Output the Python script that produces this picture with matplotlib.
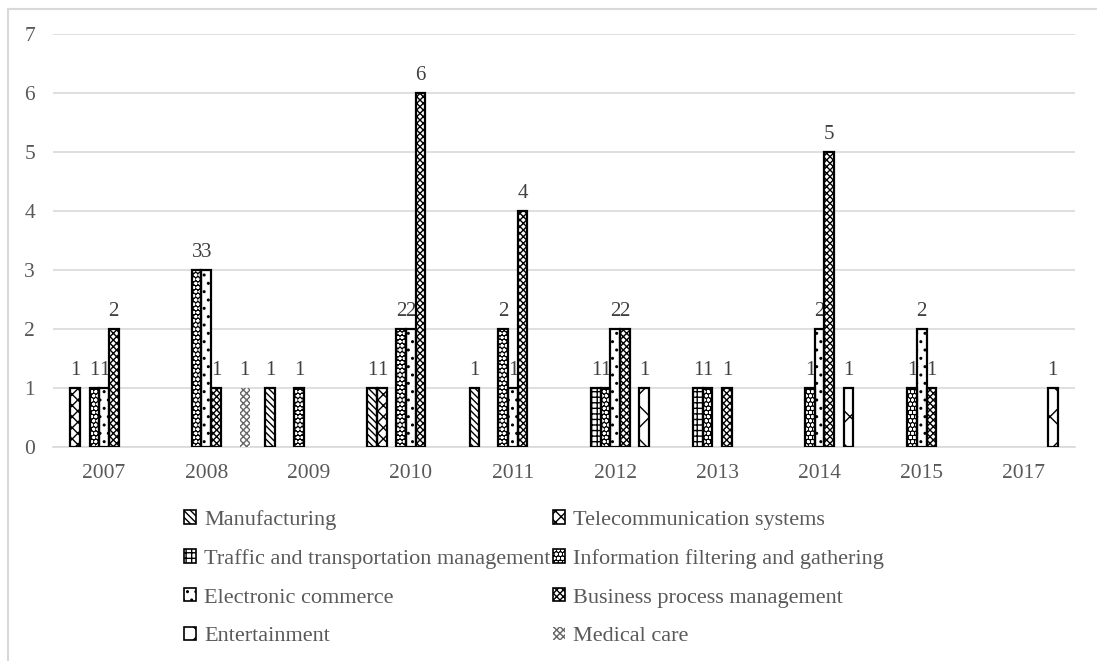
import matplotlib.pyplot as plt
from matplotlib.lines import Line2D
from matplotlib.patches import Patch
import numpy as np

# publications per application field and year
years = ["2007", "2008", "2009", "2010", "2011", "2012", "2013", "2014", "2015", "2017"]

manufacturing = [0, 0, 1, 1, 1, 0, 0, 0, 0, 0]
telecommunication = [1, 0, 0, 1, 0, 0, 0, 0, 0, 0]
traffic = [0, 0, 0, 0, 0, 1, 1, 0, 0, 0]
information_filtering = [1, 3, 1, 2, 2, 1, 1, 1, 1, 0]
electronic_commerce = [1, 3, 0, 2, 1, 2, 0, 2, 2, 0]
business_process = [2, 1, 0, 6, 4, 2, 1, 5, 1, 0]
entertainment = [0, 0, 0, 0, 0, 1, 0, 1, 0, 1]
medical_care = [0, 1, 0, 0, 0, 0, 0, 0, 0, 0]

labels = [
    "Manufacturing",
    "Telecommunication systems",
    "Traffic and transportation management",
    "Information filtering and gathering",
    "Electronic commerce",
    "Business process management",
    "Entertainment",
    "Medical care",
]
series = [manufacturing, telecommunication, traffic, information_filtering,
          electronic_commerce, business_process, entertainment, medical_care]

# style per series: face colour, hatch, hatch colour, outline
# (each hatch character gives 6 lines per inch)
styles = [
    ("white", "\\" * 5, "black", True),
    ("white", "x" * 3, "black", True),
    ("white", "+" * 3, "black", True),
    ("black", "o" * 4, "white", True),
    ("white", "..", "black", True),
    ("white", "x" * 5, "black", True),
    ("white", "x", "black", True),
    ("white", "x" * 5, "#666666", False),
]
# the original chart leaves one empty slot before the last two series
slots = [0, 1, 2, 3, 4, 5, 7, 8]
n_slots = 9

TEXT = "#595959"
GRID = "#d9d9d9"
FONT = "Liberation Serif"


def create_graph():
    """Grouped bar chart with hatched bars."""
    W, H = 1097, 661
    fig = plt.figure(figsize=(W / 100, H / 100), dpi=100)
    plt.rcParams["hatch.linewidth"] = 1.0

    # chart area border (only left and top visible in the original)
    fig.add_artist(Line2D([8 / W, 8 / W], [0, 1 - 9 / H], color=GRID, lw=1.5))
    fig.add_artist(Line2D([8 / W, 1], [1 - 9 / H, 1 - 9 / H], color=GRID, lw=1.5))

    left, right, top, bottom = 53, 1075, 34, 447
    ax = fig.add_axes([left / W, 1 - bottom / H, (right - left) / W, (bottom - top) / H])

    x = np.arange(len(years))
    width = 0.094
    handles = []
    for vals, slot, label, (fc, hatch, hc, outline) in zip(series, slots, labels, styles):
        pos = x + (slot - (n_slots - 1) / 2) * width
        vals = np.array(vals)
        mask = vals > 0
        # hatched fill
        ax.bar(pos[mask], vals[mask], width, color=fc, hatch=hatch,
               edgecolor=hc, linewidth=0, zorder=3)
        # outline on top
        if outline:
            ax.bar(pos[mask], vals[mask], width, fill=False,
                   edgecolor="black", linewidth=1.6, zorder=4)
        for px, v in zip(pos[mask], vals[mask]):
            ax.annotate(str(v), (px, v), xytext=(0, 6), textcoords="offset points",
                        ha="center", va="bottom", fontsize=15, color="#404040",
                        family=FONT)
        # legend square = hatched fill + black outline drawn over each other
        fill = Patch(facecolor=fc, hatch=hatch, edgecolor=hc, linewidth=0)
        if outline:
            handles.append((fill, Patch(fill=False, edgecolor="black", linewidth=1.2)))
        else:
            handles.append(fill)

    ax.set_xlim(-0.5, len(years) - 0.5)
    ax.set_ylim(0, 7)
    ax.set_yticks(range(0, 8))
    ax.set_xticks(x)
    ax.set_xticklabels(years)
    ax.grid(axis="y", color=GRID, linewidth=1.2, zorder=0)
    ax.set_axisbelow(True)
    for s in ["top", "right", "left"]:
        ax.spines[s].set_visible(False)
    ax.spines["bottom"].set_color(GRID)
    ax.spines["bottom"].set_linewidth(1.2)
    ax.tick_params(length=0, labelsize=15.5, labelcolor=TEXT)
    ax.tick_params(axis="y", pad=13)
    ax.tick_params(axis="x", pad=12)
    for t in ax.get_xticklabels() + ax.get_yticklabels():
        t.set_family(FONT)

    # legend reads row by row in the original, matplotlib fills columns
    order = [0, 2, 4, 6, 1, 3, 5, 7]
    fig.legend([handles[i] for i in order], [labels[i] for i in order],
               ncol=2, loc="upper left", bbox_to_anchor=(184 / W, 1 - 510 / H),
               frameon=False, prop={"family": FONT, "size": 16},
               labelcolor=TEXT, handlelength=0.55, handleheight=0.55,
               handletextpad=0.35, columnspacing=0.1, labelspacing=0.86,
               borderpad=0, borderaxespad=0)

    fig.savefig("out.png", dpi=100)


create_graph()
